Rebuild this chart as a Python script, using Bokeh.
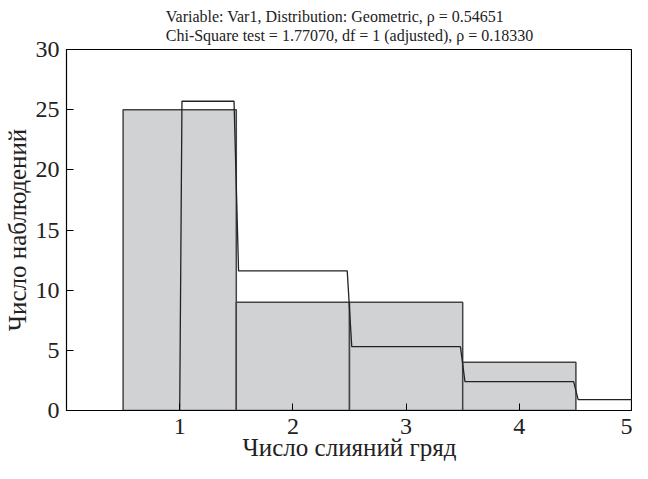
from bokeh.plotting import figure
from bokeh.models import Title, FixedTicker, ColumnDataSource
from bokeh.embed import file_html
from bokeh.resources import INLINE

# Data
categories = [1, 2, 3, 4]
observed = [25, 9, 9, 4]
exp_categories = [1, 2, 3, 4, 5]
expected = [25.7, 11.6, 5.3, 2.4, 0.9]
x_ticks = [1, 2, 3, 4, 5]
y_ticks = [0, 5, 10, 15, 20, 25, 30]
title1 = "Variable: Var1, Distribution: Geometric, \u03c1 = 0.54651"
title2 = "Chi-Square test = 1.77070, df = 1 (adjusted), \u03c1 = 0.18330"
xlabel = "Число слияний гряд"
ylabel = "Число наблюдений"

FONT = "Liberation Serif"

p = figure(width=632, height=463, x_range=(0, 5), y_range=(0, 30),
           output_backend="svg", toolbar_location=None,
           min_border_left=61, min_border_right=0, min_border_top=0, min_border_bottom=0)

p.add_layout(Title(text=title1 + "\n" + title2, align="center", text_font=FONT,
                   text_font_size="16px", text_line_height=1.15,
                   text_font_style="normal", text_color="#222222"), "above")

p.grid.visible = False
p.outline_line_color = "black"
p.outline_line_width = 1.2
p.background_fill_color = "white"
p.border_fill_color = "white"

bars = ColumnDataSource(dict(left=[c - 0.5 for c in categories],
                             right=[c + 0.5 for c in categories],
                             top=observed, bottom=[0] * len(categories)))
p.quad(left="left", right="right", top="top", bottom="bottom", source=bars,
       fill_color="#d1d2d4", line_color="#444444", line_width=1.5)

# expected step line
d = 0.02
lx = [exp_categories[0]]
ly = [0]
for i, (c, v) in enumerate(zip(exp_categories, expected)):
    left = c - 0.5 + d if i > 0 else c + d
    right = c + 0.5 - d if i < len(expected) - 1 else c
    lx += [left, right]
    ly += [v, v]
p.line(lx, ly, line_color="#222222", line_width=1.3)

for ax in (p.xaxis[0], p.yaxis[0]):
    ax.major_tick_in = 7
    ax.major_tick_out = 0
    ax.minor_tick_in = 0
    ax.minor_tick_out = 0
    ax.axis_line_color = "black"
    ax.major_tick_line_color = "black"
    ax.major_label_text_font = FONT
    ax.major_label_text_font_size = "24px"
    ax.major_label_text_color = "#222222"
    ax.axis_label_text_font = FONT
    ax.axis_label_text_font_size = "25px"
    ax.axis_label_text_font_style = "normal"
    ax.axis_label_text_color = "#222222"

p.xaxis.ticker = FixedTicker(ticks=x_ticks)
p.yaxis.ticker = FixedTicker(ticks=y_ticks)
p.xaxis.axis_label = xlabel
p.yaxis.axis_label = ylabel
p.xaxis.major_label_standoff = 8
p.xaxis.axis_label_standoff = -3
p.yaxis.major_label_standoff = 7
p.yaxis.axis_label_standoff = 2

open("out.html", "w").write(file_html(p, INLINE))
